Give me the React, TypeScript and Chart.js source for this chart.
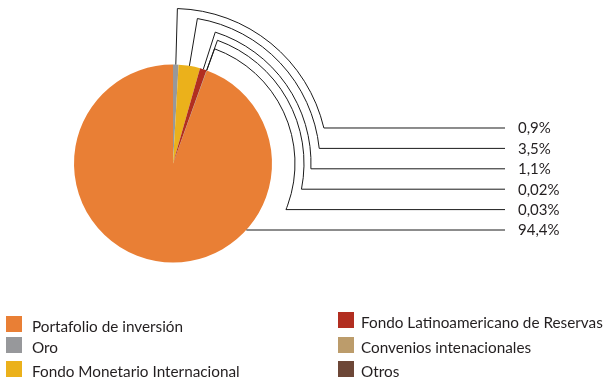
import React, { useEffect, useRef } from "react";
import { Chart, registerables } from "chart.js";

Chart.register(...registerables);

const categories = [
  "Portafolio de inversión",
  "Oro",
  "Fondo Monetario Internacional",
  "Fondo Latinoamericano de Reservas",
  "Convenios intenacionales",
  "Otros",
];
const values = [94.4, 0.9, 3.5, 1.1, 0.02, 0.03];
const colors = ["#E97F35", "#97989B", "#EBB11B", "#B22E20", "#BC9C6B", "#6D4737"];
// order in which percentage labels are listed (top to bottom)
const labelOrder = [1, 2, 3, 4, 5, 0];

const FONT = "Lato, 'Open Sans', sans-serif";

const fmt = (v: number) => v.toString().replace(".", ",") + "%";

const leaderPlugin = {
  id: "leaders",
  afterDraw(chart: any) {
    const meta = chart.getDatasetMeta(0);
    const ctx = chart.ctx as CanvasRenderingContext2D;
    const arc0 = meta.data[0] as any;
    const cx = arc0.x;
    const cy = arc0.y;
    const r = arc0.outerRadius;
    const extra = [56, 48, 39, 32, 23];
    const firstRowDy = -35.5;
    const rowStep = 20.4;
    const lineEndX = 505;
    const textX = 518;
    ctx.save();
    ctx.strokeStyle = "#1a1a1a";
    ctx.lineWidth = 1;
    ctx.fillStyle = "#231F20";
    ctx.font = "15px " + FONT;
    ctx.textBaseline = "middle";
    ctx.textAlign = "left";
    labelOrder.forEach((idx, k) => {
      const el = meta.data[idx] as any;
      const rowY = cy + firstRowDy + k * rowStep;
      ctx.beginPath();
      if (k < extra.length) {
        const mid = (el.startAngle + el.endAngle) / 2;
        const R = r + extra[k];
        ctx.moveTo(cx + r * Math.cos(mid), cy + r * Math.sin(mid));
        ctx.lineTo(cx + R * Math.cos(mid), cy + R * Math.sin(mid));
        const endA = Math.asin((rowY - cy) / R);
        ctx.arc(cx, cy, R, mid, endA, false);
        ctx.lineTo(lineEndX, rowY);
      } else {
        const dy = rowY - cy;
        const ax = cx + Math.sqrt(Math.max(r * r - dy * dy, 0));
        ctx.moveTo(ax, rowY);
        ctx.lineTo(lineEndX, rowY);
      }
      ctx.stroke();
      ctx.fillText(fmt(values[idx]), textX, rowY + 0.5);
    });
    ctx.restore();
  },
};

const legendPos = [
  { x: 6, y: 316 },
  { x: 6, y: 337 },
  { x: 6, y: 361 },
  { x: 338, y: 312 },
  { x: 338, y: 337 },
  { x: 338, y: 361 },
];

export default function App() {
  const ref = useRef<HTMLCanvasElement | null>(null);
  useEffect(() => {
    if (!ref.current) return;
    const total = values.reduce((a, b) => a + b, 0);
    const rotation = ((total - values[0]) / total) * 360;
    const chart = new Chart(ref.current, {
      type: "pie",
      data: {
        labels: categories,
        datasets: [
          {
            data: values,
            backgroundColor: colors,
            borderWidth: 0,
          },
        ],
      },
      options: {
        responsive: false,
        animation: false,
        devicePixelRatio: 1,
        rotation,
        layout: { padding: { left: 74, right: 331, top: 64.5, bottom: 118.5 } },
        plugins: {
          legend: { display: false },
          tooltip: { enabled: false },
        },
      },
      plugins: [leaderPlugin],
    });
    return () => chart.destroy();
  }, []);

  return (
    <div style={{ position: "absolute", left: 0, top: 0, width: 603, height: 381, background: "#fff" }}>
      <canvas ref={ref} width={603} height={381} style={{ position: "absolute", left: 0, top: 0 }} />
      {categories.map((c, i) => (
        <div key={c}>
          <div
            style={{
              position: "absolute",
              left: legendPos[i].x,
              top: legendPos[i].y,
              width: 16,
              height: 16,
              background: colors[i],
            }}
          />
          <div
            style={{
              position: "absolute",
              left: legendPos[i].x + (i < 3 ? 26 : 23),
              top: legendPos[i].y + 1,
              height: 16,
              lineHeight: "16px",
              font: "15.3px " + FONT,
              color: "#231F20",
              whiteSpace: "nowrap",
            }}
          >
            {c}
          </div>
        </div>
      ))}
    </div>
  );
}
